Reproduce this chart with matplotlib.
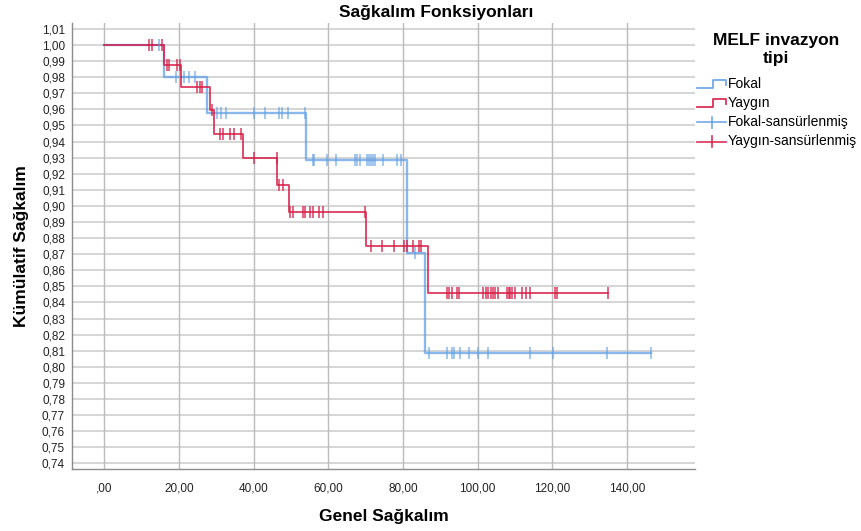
import numpy as np
import matplotlib
matplotlib.use("Agg")
import matplotlib.pyplot as plt
from matplotlib.legend_handler import HandlerBase
from matplotlib.lines import Line2D

plt.rcParams['font.family'] = ['Liberation Sans', 'DejaVu Sans']

# ---- data ----
fokal_times = [0, 16.1, 27.5, 54.0, 81.0, 86.0]
fokal_surv = [1.0, 0.980, 0.958, 0.9285, 0.8705, 0.8084]
fokal_end = 146.3
fokal_censor = [14.6, 19.3, 21.5, 22.6, 24.3, 30.3, 31.3, 32.6, 40.1, 43.0, 46.9,
                47.5, 49.3, 53.8, 55.9, 56.3, 59.8, 62.1, 67.2, 67.8, 68.5, 70.3,
                70.9, 71.5, 71.9, 72.5, 74.6, 78.3, 79.5, 83.1, 87.1, 91.7, 93.2,
                93.6, 95.3, 97.8, 100.2, 102.9, 114.0, 120.1, 134.6, 146.3]

yaygin_times = [0, 15.9, 20.5, 28.4, 29.4, 37.3, 46.4, 49.5, 70.0, 86.8]
yaygin_surv = [1.0, 0.9877, 0.9742, 0.9596, 0.945, 0.9296, 0.913, 0.8964, 0.8753, 0.8461]
yaygin_end = 135.0
yaygin_censor = [12.0, 12.8, 15.5, 16.8, 17.3, 19.6, 20.3, 25.0, 25.7, 26.3, 28.8,
                 30.9, 31.9, 33.7, 34.8, 36.6, 40.1, 46.2, 46.9, 48.0, 49.8, 50.7,
                 53.2, 53.8, 55.1, 55.8, 57.4, 58.5, 69.9, 71.5, 74.3, 77.6, 80.3,
                 81.0, 82.8, 84.4, 84.9, 91.7, 92.4, 93.1, 94.4, 95.1, 101.4, 102.2,
                 102.8, 103.5, 104.0, 104.7, 105.5, 107.9, 108.4, 108.8, 109.3, 110.0,
                 111.8, 113.0, 114.0, 120.7, 121.2, 135.0]

group_labels = ['Fokal', 'Yaygın', 'Fokal-sansürlenmiş', 'Yaygın-sansürlenmiş']
legend_title_lines = ['MELF invazyon', 'tipi']
x_ticks = [0, 20, 40, 60, 80, 100, 120, 140]
x_ticklabels = [',00', '20,00', '40,00', '60,00', '80,00', '100,00', '120,00', '140,00']
y_ticks = [round(0.74 + 0.01 * i, 2) for i in range(28)]

BLUE = '#62a0e6'
RED = '#d61a45'

W, H = 861, 531
fig = plt.figure(figsize=(W / 100, H / 100), dpi=100)
ax = fig.add_axes([72 / W, 1 - 469 / H, (695 - 72) / W, (469 - 23) / H])


def step_y(times, surv, t):
    i = np.searchsorted(times, t, side='right') - 1
    return np.asarray(surv)[i]


def draw_group(times, surv, end, censor, color, lw, alpha):
    xs = list(times) + [end]
    ys = list(surv) + [surv[-1]]
    ax.step(xs, ys, where='post', color=color, lw=lw, alpha=alpha, zorder=3)
    cy = step_y(np.asarray(times), surv, np.asarray(censor))
    ax.plot(censor, cy, linestyle='none', marker='|', markersize=8, mew=1.1,
            color=color, alpha=alpha, zorder=4)


draw_group(fokal_times, fokal_surv, fokal_end, fokal_censor, BLUE, 1.7, 0.75)
draw_group(yaygin_times, yaygin_surv, yaygin_end, yaygin_censor, RED, 1.3, 0.85)

ax.set_xlim(-8.6, 158.2)
ax.set_ylim(0.7365, 1.0137)
ax.set_xticks(x_ticks)
ax.set_xticklabels(x_ticklabels)
ax.set_yticks(y_ticks)
ax.set_yticklabels([f'{v:.2f}'.replace('.', ',') for v in y_ticks])
ax.tick_params(axis='both', length=0, labelsize=8.5, colors='#222222')
ax.tick_params(axis='x', pad=10)
ax.tick_params(axis='y', pad=5)

for v in y_ticks:
    ax.axhline(v, color='#d2d2d2', lw=1.3, zorder=1)
for v in x_ticks:
    ax.axvline(v, color='#bcbcbc', lw=1.0, zorder=1)

for s in ['top', 'right']:
    ax.spines[s].set_visible(False)
for s in ['left', 'bottom']:
    ax.spines[s].set_color('#8c8c8c')
    ax.spines[s].set_linewidth(1.0)

fig.text(436 / W, 1 - 12 / H, 'Sağkalım Fonksiyonları', fontsize=12.5,
         fontweight='bold', ha='center', va='center')
ax.set_xlabel('Genel Sağkalım', fontsize=12.5, fontweight='bold', labelpad=10)
ax.set_ylabel('Kümülatif Sağkalım', fontsize=12.5, fontweight='bold', labelpad=9)

fig.text(776 / W, 1 - 40 / H, legend_title_lines[0], fontsize=12.5,
         fontweight='bold', ha='center', va='center')
fig.text(776 / W, 1 - 58 / H, legend_title_lines[1], fontsize=12.5,
         fontweight='bold', ha='center', va='center')


class StepHandler(HandlerBase):
    def __init__(self, color, alpha):
        super().__init__()
        self.color = color
        self.alpha = alpha

    def create_artists(self, legend, orig_handle, xdescent, ydescent, width,
                       height, fontsize, trans):
        x0 = -xdescent
        y0 = -ydescent
        xs = [x0, x0 + 0.55 * width, x0 + 0.55 * width, x0 + width, x0 + width]
        ys = [y0 + 0.05 * height, y0 + 0.05 * height, y0 + 0.8 * height,
              y0 + 0.8 * height, y0 + 0.35 * height]
        ln = Line2D(xs, ys, color=self.color, lw=1.3, alpha=self.alpha,
                    transform=trans)
        return [ln]


class CensorHandler(HandlerBase):
    def __init__(self, color, alpha):
        super().__init__()
        self.color = color
        self.alpha = alpha

    def create_artists(self, legend, orig_handle, xdescent, ydescent, width,
                       height, fontsize, trans):
        x0 = -xdescent
        y0 = -ydescent
        h = Line2D([x0, x0 + width], [y0 + 0.4 * height] * 2, color=self.color,
                   lw=1.2, alpha=self.alpha, transform=trans)
        v = Line2D([x0 + 0.5 * width] * 2, [y0 - 0.2 * height, y0 + 1.0 * height],
                   color=self.color, lw=1.2, alpha=self.alpha, transform=trans)
        return [h, v]


hs = [object(), object(), object(), object()]
hmap = {hs[0]: StepHandler(BLUE, 0.9), hs[1]: StepHandler(RED, 0.9),
        hs[2]: CensorHandler(BLUE, 0.9), hs[3]: CensorHandler(RED, 0.9)}
leg = fig.legend(hs, group_labels, handler_map=hmap, loc='upper left',
                 bbox_to_anchor=(697 / W, 1 - 77 / H), frameon=False, fontsize=10,
                 handlelength=2.1, handletextpad=0.12, labelspacing=0.37,
                 borderaxespad=0, borderpad=0)

fig.savefig('out.png', dpi=100)
